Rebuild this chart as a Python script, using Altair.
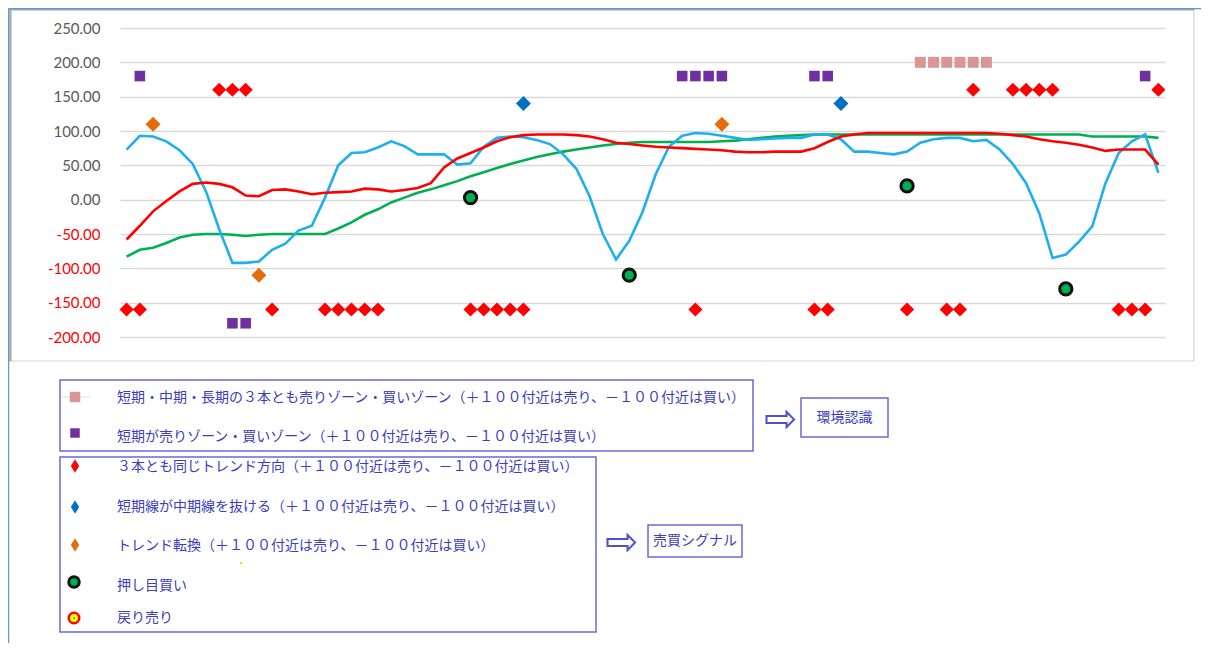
import altair as alt
import pandas as pd

# ---------------- data ----------------
x_index = list(range(79))
short_term = [73, 93, 92, 85, 72, 52, 12, -43, -92, -92,
              -90, -73, -64, -45, -38, 3, 50, 68, 69, 76,
              85, 78, 66, 66, 66, 51, 53, 77, 90, 92,
              91, 87, 81, 66, 45, 5, -50, -87, -60, -18,
              37, 77, 93, 97, 96, 93, 90, 87, 88, 89,
              90, 90, 95, 95, 88, 70, 70, 68, 66, 70,
              83, 88, 90, 90, 85, 87, 73, 52, 24, -20,
              -85, -80, -61, -39, 24, 68, 85, 95, 39]
mid_term = [-58, -38, -17, -2, 12, 23, 25, 23, 18, 6,
            5, 14, 15, 12, 8, 10, 11, 12, 16, 15,
            12, 14, 17, 24, 47, 60, 68, 76, 85, 91,
            94, 95, 95, 95, 94, 92, 88, 83, 81, 79,
            77, 76, 75, 74, 73, 72, 70, 69, 69, 70,
            70, 70, 75, 84, 92, 95, 97, 97, 97, 97,
            97, 97, 97, 97, 97, 97, 96, 94, 92, 88,
            85, 83, 80, 76, 71, 73, 73, 73, 51]
long_term = [-83, -73, -70, -63, -55, -51, -50, -50, -51, -53,
             -51, -50, -50, -50, -50, -50, -42, -33, -22, -14,
             -4, 3, 10, 15, 21, 27, 34, 40, 46, 52,
             57, 62, 66, 70, 73, 76, 79, 81, 83, 84,
             84, 84, 84, 84, 84, 85, 86, 88, 90, 92,
             93, 94, 95, 95, 95, 95, 95, 95, 95, 95,
             95, 95, 95, 95, 95, 95, 95, 95, 95, 95,
             95, 95, 95, 92, 92, 92, 92, 92, 90]

zone_all_idx = [60, 61, 62, 63, 64, 65]
zone_all_val = [200, 200, 200, 200, 200, 200]
zone_short_idx = [1, 8, 9, 42, 43, 44, 45, 52, 53, 77]
zone_short_val = [180, -180, -180, 180, 180, 180, 180, 180, 180, 180]
trend_same_idx = [0, 1, 7, 8, 9, 11, 15, 16, 17, 18,
                  19, 26, 27, 28, 29, 30, 43, 52, 53, 59,
                  62, 63, 64, 67, 68, 69, 70, 75, 76, 77, 78]
trend_same_val = [-160, -160, 160, 160, 160, -160, -160, -160, -160, -160,
                  -160, -160, -160, -160, -160, -160, -160, -160, -160, -160,
                  -160, -160, 160, 160, 160, 160, 160, -160, -160, -160, 160]
cross_idx = [30, 54]
cross_val = [140, 140]
turn_idx = [2, 10, 45]
turn_val = [110, -110, 110]
dip_buy_idx = [26, 38, 59, 71]
dip_buy_val = [3, -110, 20, -130]

y_ticks = [-200, -150, -100, -50, 0, 50, 100, 150, 200, 250]

legend_texts = [
    "短期・中期・長期の３本とも売りゾーン・買いゾーン（＋１００付近は売り、－１００付近は買い）",
    "短期が売りゾーン・買いゾーン（＋１００付近は売り、－１００付近は買い）",
    "３本とも同じトレンド方向（＋１００付近は売り、－１００付近は買い）",
    "短期線が中期線を抜ける（＋１００付近は売り、－１００付近は買い）",
    "トレンド転換（＋１００付近は売り、－１００付近は買い）",
    "押し目買い",
    "戻り売り",
]
group_labels = ["環境認識", "売買シグナル"]

# ---------------- encodings ----------------
OX, OY = 120, 28  # page position of plot origin
TXT = "#3c3cc0"
BOX = "#6a6ad8"
JP = "Noto Sans CJK JP"

X = alt.X("i:Q", scale=alt.Scale(domain=[-0.5, 78.5], nice=False, zero=False), axis=None)
Y = alt.Y(
    "v:Q",
    scale=alt.Scale(domain=[-200, 250], nice=False, zero=False),
    axis=alt.Axis(
        values=y_ticks, title=None, grid=True, gridColor="#d9d9d9", gridWidth=1.4,
        domain=False, ticks=False, labelPadding=20, labelFont="Lato", labelFontSize=15,
        labelExpr="(datum.value < 0 ? '-' : '') + format(abs(datum.value), '.2f')",
        labelColor={"condition": {"test": "datum.value < 0", "value": "#ff0000"}, "value": "#595959"},
    ),
)


def line_layer(vals, color):
    df = pd.DataFrame({"i": x_index, "v": vals})
    return alt.Chart(df).mark_line(color=color, strokeWidth=2.6).encode(x=X, y=Y)


def marker_layer(idx, vals, shape, size, color, stroke=None, sw=0):
    df = pd.DataFrame({"i": idx, "v": vals})
    kw = dict(shape=shape, size=size, fill=color, filled=True, opacity=1)
    if stroke:
        kw.update(stroke=stroke, strokeWidth=sw)
    else:
        kw.update(strokeWidth=0)
    return alt.Chart(df).mark_point(**kw).encode(x=X, y=Y)


blank = alt.Data(values=[{}])


def rect(x1, y1, x2, y2, color, width=1.5):
    return alt.Chart(blank).mark_rect(fillOpacity=0, stroke=color, strokeWidth=width).encode(
        x=alt.value(x1 - OX), x2=alt.value(x2 - OX), y=alt.value(y1 - OY), y2=alt.value(y2 - OY))


def rule(x1, y1, x2, y2, color, width=1.0):
    return alt.Chart(blank).mark_rule(color=color, strokeWidth=width).encode(
        x=alt.value(x1 - OX), x2=alt.value(x2 - OX), y=alt.value(y1 - OY), y2=alt.value(y2 - OY))


def text(s, x, y, align="left", size=14, font=JP, color=TXT):
    return alt.Chart(blank).mark_text(text=s, align=align, baseline="middle", font=font,
                                      fontSize=size, color=color).encode(
        x=alt.value(x - OX), y=alt.value(y - OY))


def sym(x, y, shape, size, color, stroke=None, sw=0):
    kw = dict(shape=shape, size=size, fill=color, filled=True, opacity=1)
    if stroke:
        kw.update(stroke=stroke, strokeWidth=sw)
    else:
        kw.update(strokeWidth=0)
    return alt.Chart(blank).mark_point(**kw).encode(x=alt.value(x - OX), y=alt.value(y - OY))


TALL_DIAMOND = "M0,-1L0.62,0L0,1L-0.62,0Z"

layers = [
    # outer frame
    rect(10, 9, 1194, 361, "#d4d4d4", 1.2),
    rule(10, 9.5, 1194, 9.5, "#a6a6a6", 2),
    rule(10.5, 9, 10.5, 361, "#a6a6a6", 2),
    rule(8, 8.5, 1211, 8.5, "#5b9bd5", 1.5),
    rule(8.5, 8, 8.5, 651, "#5b9bd5", 1.5),
    # lines
    line_layer(long_term, "#00b050"),
    line_layer(short_term, "#1eb0ee"),
    line_layer(mid_term, "#ff0000"),
    # markers
    marker_layer(zone_all_idx, zone_all_val, "square", 120, "#d99694"),
    marker_layer(zone_short_idx, zone_short_val, "square", 112, "#7030a0"),
    marker_layer(trend_same_idx, trend_same_val, "diamond", 200, "#ff0000"),
    marker_layer(cross_idx, cross_val, "diamond", 225, "#0070c0"),
    marker_layer(turn_idx, turn_val, "diamond", 225, "#e46c0a"),
    marker_layer(dip_buy_idx, dip_buy_val, "circle", 150, "#00b050", "#111111", 3),
    # legend box 1
    rect(60, 380, 753, 451, BOX, 1.5),
    rule(62, 397, 90, 397, "#e8dada", 1),
    sym(75, 397, "square", 110, "#d99694"),
    text(legend_texts[0], 117, 398),
    sym(75, 433, "square", 90, "#7030a0"),
    text(legend_texts[1], 117, 437),
    text("⇨", 781, 420, align="center", size=40, font="DejaVu Sans", color="#5050c8"),
    rect(801, 398, 888, 437, BOX, 1.5),
    text(group_labels[0], 844.5, 418, align="center"),
    # legend box 2
    rect(60, 457, 596, 632, BOX, 1.5),
    sym(75, 466, TALL_DIAMOND, 180, "#ff0000"),
    text(legend_texts[2], 117, 467),
    sym(75, 507, TALL_DIAMOND, 180, "#0070c0"),
    text(legend_texts[3], 117, 507),
    sym(75, 545, TALL_DIAMOND, 180, "#e46c0a"),
    text(legend_texts[4], 117, 546),
    sym(74, 582, "circle", 110, "#00b050", "#111111", 3),
    text(legend_texts[5], 117, 586),
    sym(74, 618, "circle", 110, "#ffff00", "#ff0000", 2.5),
    sym(74, 618, "circle", 4, "#00b050"),
    text(legend_texts[6], 117, 618),
    sym(241, 563, "square", 5, "#f0e000"),
    text("⇨", 622, 543, align="center", size=40, font="DejaVu Sans", color="#5050c8"),
    rect(648, 525, 742, 557, BOX, 1.5),
    text(group_labels[1], 695, 541, align="center"),
]

chart = alt.layer(*layers).properties(
    width=1045,
    height=309,
    autosize=alt.AutoSizeParams(type="none"),
    padding={"left": 112, "top": 20, "right": 36, "bottom": 306},
    background="white",
).configure_view(strokeWidth=0)

chart.save("out.html", embed_options={"renderer": "svg", "actions": False})
